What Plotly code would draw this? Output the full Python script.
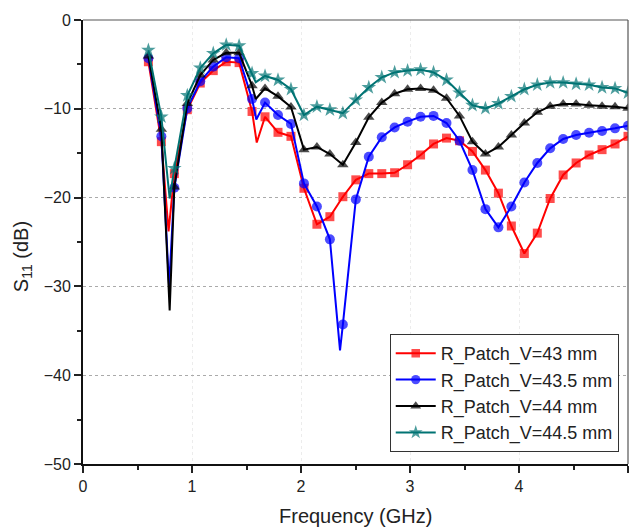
import plotly.graph_objects as go

# Marker frequencies (GHz)
freq_markers = [0.600, 0.719, 0.838, 0.957, 1.076, 1.195, 1.314, 1.432, 1.551, 1.670,
                1.789, 1.908, 2.027, 2.146, 2.265, 2.384, 2.503, 2.622, 2.741, 2.859,
                2.978, 3.097, 3.216, 3.335, 3.454, 3.573, 3.692, 3.811, 3.930, 4.049,
                4.168, 4.286, 4.405, 4.524, 4.643, 4.762, 4.881, 5.000]

red_db = [-4.7, -13.7, -17.3, -10.1, -7.1, -5.7, -4.7, -4.8, -10.3, -10.9,
          -12.65, -13.1, -18.95, -23.0, -22.15, -19.9, -18.0, -17.3, -17.3, -17.2,
          -16.3, -15.2, -13.96, -13.3, -13.6, -14.8, -16.9, -19.5, -23.2, -26.3,
          -24.0, -20.1, -17.45, -16.1, -15.2, -14.6, -13.96, -13.1]
blue_db = [-4.3, -13.1, -18.9, -9.95, -6.9, -5.25, -4.2, -4.3, -8.9, -9.3,
           -10.7, -11.7, -18.4, -21.0, -24.7, -34.3, -20.2, -15.4, -13.2, -12.1,
           -11.45, -10.9, -10.8, -11.6, -13.6, -16.9, -21.3, -23.35, -21.0, -18.3,
           -16.1, -14.45, -13.4, -12.95, -12.7, -12.5, -12.2, -11.9]
black_db = [-4.05, -12.3, -18.8, -9.4, -6.2, -4.5, -3.7, -3.7, -7.4, -7.7,
            -8.6, -9.8, -14.6, -14.3, -15.1, -16.3, -13.8, -10.96, -9.3, -8.3,
            -7.8, -7.7, -7.9, -8.8, -10.8, -13.7, -15.1, -14.3, -12.95, -11.6,
            -10.4, -9.7, -9.46, -9.46, -9.6, -9.7, -9.76, -9.95]
teal_db = [-3.4, -10.9, -16.7, -8.5, -5.4, -3.75, -2.8, -2.9, -6.0, -6.3,
           -6.75, -7.8, -10.7, -9.76, -10.1, -10.5, -9.0, -7.6, -6.45, -5.9,
           -5.7, -5.6, -5.9, -6.75, -8.2, -9.6, -9.95, -9.4, -8.6, -7.8,
           -7.3, -7.05, -7.05, -7.2, -7.3, -7.6, -7.7, -8.2]

# Extra (unmarked) line points at sharp resonances
red_extra_f, red_extra_db = [0.785, 1.594], [-23.8, -13.8]
blue_extra_f, blue_extra_db = [0.790, 1.590, 2.358], [-30.0, -11.2, -37.2]
black_extra_f, black_extra_db = [0.795, 1.585], [-32.7, -8.9]
teal_extra_f, teal_extra_db = [0.795, 1.585], [-20.1, -7.0]

names = ["R_Patch_V=43 mm", "R_Patch_V=43.5 mm", "R_Patch_V=44 mm", "R_Patch_V=44.5 mm"]
colors = ["#ff0000", "#0000ff", "#000000", "#007373"]
symbols = ["square", "circle", "triangle-up", "star"]
sizes = [9, 10, 10, 11]

series = [(red_db, red_extra_f, red_extra_db),
          (blue_db, blue_extra_f, blue_extra_db),
          (black_db, black_extra_f, black_extra_db),
          (teal_db, teal_extra_f, teal_extra_db)]

fig = go.Figure()
for (vals, ef, ed), name, col, sym, sz in zip(series, names, colors, symbols, sizes):
    pts = [(f, v, sz) for f, v in zip(freq_markers, vals)] + [(f, v, 0) for f, v in zip(ef, ed)]
    pts.sort(key=lambda p: p[0])
    fig.add_trace(go.Scatter(
        x=[p[0] for p in pts], y=[p[1] for p in pts], name=name,
        mode="lines+markers",
        line=dict(color=col, width=2),
        marker=dict(symbol=sym, color=col, size=[p[2] for p in pts], line=dict(width=0)),
    ))

fig.update_layout(
    width=629, height=528,
    margin=dict(l=83, r=1, t=20, b=64),
    paper_bgcolor="white", plot_bgcolor="white",
    font=dict(family="Liberation Sans, Arial, sans-serif", color="#222", size=16),
    showlegend=True,
    legend=dict(x=0.983, y=0.027, xanchor="right", yanchor="bottom",
                bgcolor="white", bordercolor="#333", borderwidth=1,
                font=dict(size=18), itemwidth=40, tracegroupgap=0),
    xaxis=dict(range=[0, 5], tickvals=[0, 1, 2, 3, 4, 5], ticks="outside", ticklen=7,
               tickwidth=1.5, tickcolor="#222", automargin=False,
               showline=True, linecolor="#111", linewidth=2,
               showgrid=True, gridcolor="#ececec", gridwidth=1, griddash="dot",
               zeroline=False,
               minor=dict(dtick=0.5, ticks="outside", ticklen=4, tickcolor="#222", showgrid=False)),
    yaxis=dict(range=[-50, 0], tickvals=[0, -10, -20, -30, -40, -50], ticks="outside", ticklen=7,
               tickwidth=1.5, tickcolor="#222", automargin=False,
               showline=True, linecolor="#111", linewidth=2,
               showgrid=True, gridcolor="#aaa", gridwidth=1, griddash="dot",
               zeroline=False,
               minor=dict(dtick=5, ticks="outside", ticklen=4, tickcolor="#222", showgrid=False)),
    shapes=[
        dict(type="line", xref="paper", yref="paper", x0=0, x1=1, y0=1, y1=1,
             line=dict(color="#555", width=1.2)),
        dict(type="line", xref="paper", yref="paper", x0=1, x1=1, y0=0, y1=1,
             line=dict(color="#555", width=1.2)),
    ],
    annotations=[
        dict(text="S<sub>11</sub> (dB)", textangle=-90, xref="paper", yref="paper",
             x=-0.112, y=0.468, xanchor="center", yanchor="middle",
             showarrow=False, font=dict(size=20)),
        dict(text="Frequency (GHz)", xref="paper", yref="paper",
             x=0.5, y=-0.117, xanchor="center", yanchor="middle",
             showarrow=False, font=dict(size=20)),
    ],
)

fig.write_html("out.html", config={"displayModeBar": False},
               post_script="document.body.style.margin='0';")
